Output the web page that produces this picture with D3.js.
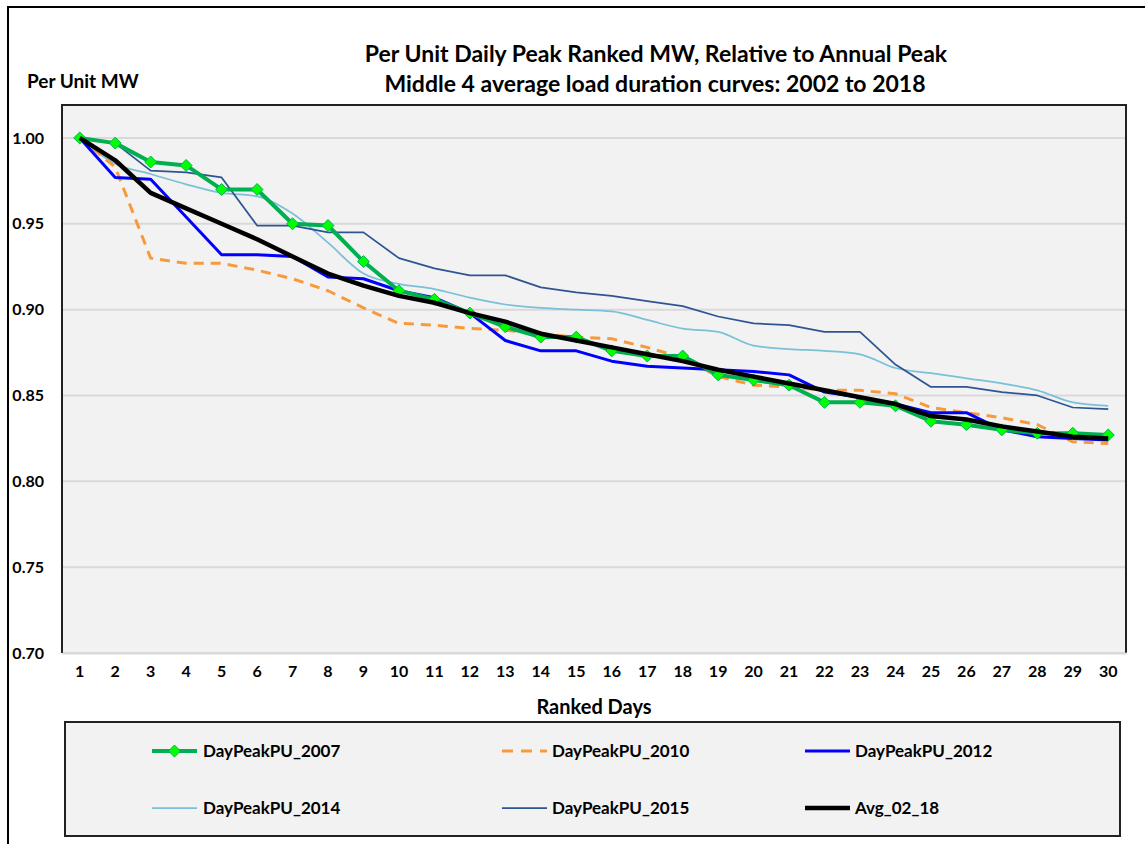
<!DOCTYPE html>
<html>
<head>
<meta charset="utf-8">
<script src="https://cdn.jsdelivr.net/npm/d3@7"></script>
<style>
  body { margin: 0; background: #fff; }
  text { font-family: Lato, "Open Sans", sans-serif; font-weight: bold; fill: #000; }
</style>
</head>
<body>
<div id="chart"></div>
<script>
// ranked days 1..30
let days = d3.range(1, 31);

let pu2007 = [1.000, 0.997, 0.986, 0.984, 0.970, 0.970, 0.950, 0.949, 0.928, 0.911,
              0.906, 0.898, 0.890, 0.884, 0.884, 0.876, 0.873, 0.873, 0.862, 0.859,
              0.856, 0.846, 0.846, 0.844, 0.835, 0.833, 0.830, 0.828, 0.828, 0.827];
let pu2010 = [1.000, 0.983, 0.930, 0.927, 0.927, 0.923, 0.918, 0.911, 0.901, 0.892,
              0.891, 0.889, 0.888, 0.886, 0.884, 0.883, 0.878, 0.872, 0.861, 0.856,
              0.855, 0.853, 0.853, 0.851, 0.843, 0.840, 0.837, 0.833, 0.823, 0.822];
let pu2012 = [1.000, 0.977, 0.976, 0.954, 0.932, 0.932, 0.931, 0.919, 0.918, 0.911,
              0.907, 0.898, 0.882, 0.876, 0.876, 0.870, 0.867, 0.866, 0.865, 0.864,
              0.862, 0.852, 0.849, 0.845, 0.840, 0.840, 0.830, 0.826, 0.825, 0.824];
let pu2014 = [1.000, 0.985, 0.979, 0.973, 0.968, 0.966, 0.956, 0.939, 0.921, 0.915,
              0.912, 0.907, 0.903, 0.901, 0.900, 0.899, 0.894, 0.889, 0.887, 0.879,
              0.877, 0.876, 0.874, 0.866, 0.863, 0.860, 0.857, 0.853, 0.846, 0.844];
let pu2015 = [1.000, 0.997, 0.981, 0.980, 0.977, 0.949, 0.949, 0.945, 0.945, 0.930,
              0.924, 0.920, 0.920, 0.913, 0.910, 0.908, 0.905, 0.902, 0.896, 0.892,
              0.891, 0.887, 0.887, 0.868, 0.855, 0.855, 0.852, 0.850, 0.843, 0.842];
let avg0218 = [1.000, 0.987, 0.968, 0.959, 0.950, 0.941, 0.931, 0.921, 0.914, 0.908,
               0.904, 0.898, 0.893, 0.886, 0.882, 0.878, 0.874, 0.870, 0.865, 0.861,
               0.857, 0.853, 0.849, 0.845, 0.838, 0.836, 0.832, 0.829, 0.826, 0.825];

let yTicks = [0.70, 0.75, 0.80, 0.85, 0.90, 0.95, 1.00];

let series = [
  {name: "DayPeakPU_2007", values: pu2007, color: "#00B050", width: 4, dash: null, marker: true},
  {name: "DayPeakPU_2010", values: pu2010, color: "#F79A3C", width: 3, dash: "10,7", marker: false},
  {name: "DayPeakPU_2012", values: pu2012, color: "#0000FF", width: 3, dash: null, marker: false},
  {name: "DayPeakPU_2014", values: pu2014, color: "#79C0D8", width: 1.75, dash: null, marker: false, smooth: true},
  {name: "DayPeakPU_2015", values: pu2015, color: "#2E5591", width: 1.75, dash: null, marker: false},
  {name: "Avg_02_18", values: avg0218, color: "#000000", width: 4.5, dash: null, marker: false}
];

let W = 1145, H = 844;
let plot = {left: 62, top: 105, right: 1126, bottom: 653};

let svg = d3.select("#chart").append("svg")
  .attr("width", W).attr("height", H);

// outer chart frame (runs off the right and bottom edges)
svg.append("rect")
  .attr("x", 8).attr("y", 7).attr("width", 1160).attr("height", 860)
  .attr("fill", "#fff").attr("stroke", "#000").attr("stroke-width", 2);

// titles
svg.append("text").attr("x", 656).attr("y", 62).attr("text-anchor", "middle")
  .style("font-size", "23px").text("Per Unit Daily Peak Ranked MW, Relative to Annual Peak");
svg.append("text").attr("x", 655).attr("y", 92).attr("text-anchor", "middle")
  .style("font-size", "23px").text("Middle 4 average load duration curves: 2002 to 2018");
svg.append("text").attr("x", 27).attr("y", 88)
  .style("font-size", "19px").text("Per Unit MW");

let x = d3.scaleBand().domain(days).range([plot.left, plot.right]);
let y = d3.scaleLinear().domain([0.70, 1.0192]).range([plot.bottom, plot.top]);
let cx = d => x(d) + x.bandwidth() / 2;

// plot area
svg.append("rect")
  .attr("x", plot.left).attr("y", plot.top)
  .attr("width", plot.right - plot.left).attr("height", plot.bottom - plot.top)
  .attr("fill", "#F2F2F2");

// gridlines
svg.append("g").selectAll("line").data(yTicks).enter().append("line")
  .attr("x1", plot.left).attr("x2", plot.right)
  .attr("y1", d => y(d)).attr("y2", d => y(d))
  .attr("stroke", "#D9D9D9").attr("stroke-width", 2);

// plot frame: dark left / top / right, grey bottom axis
svg.append("path")
  .attr("d", `M${plot.left},${plot.bottom}V${plot.top}H${plot.right}V${plot.bottom}`)
  .attr("fill", "none").attr("stroke", "#222").attr("stroke-width", 2);

// axes
let yAxis = svg.append("g")
  .attr("transform", "translate(" + plot.left + ",0)")
  .call(d3.axisLeft(y).tickValues(yTicks).tickFormat(d3.format(".2f")).tickSize(0).tickPadding(18));
yAxis.select(".domain").remove();
yAxis.selectAll("text").style("font-size", "16px").style("font-family", "Lato, sans-serif");

let xAxis = svg.append("g")
  .attr("transform", "translate(0," + plot.bottom + ")")
  .call(d3.axisBottom(x).tickSize(0).tickPadding(13));
xAxis.select(".domain").attr("stroke", "#D9D9D9").attr("stroke-width", 2);
xAxis.selectAll("text").style("font-size", "16px").style("font-family", "Lato, sans-serif");

svg.append("text").attr("x", 594).attr("y", 714).attr("text-anchor", "middle")
  .style("font-size", "20px").text("Ranked Days");

// lines
let lineGen = d3.line().x((d, i) => cx(days[i])).y(d => y(d));
let smoothGen = d3.line().x((d, i) => cx(days[i])).y(d => y(d)).curve(d3.curveMonotoneX);

let drawOrder = [3, 4, 1, 2, 0, 5];
drawOrder.forEach(function(k) {
  let s = series[k];
  svg.append("path")
    .datum(s.values)
    .attr("d", s.smooth ? smoothGen : lineGen)
    .attr("fill", "none")
    .attr("stroke", s.color)
    .attr("stroke-width", s.width)
    .attr("stroke-dasharray", s.dash)
    .attr("stroke-linejoin", "round");
  if (s.marker) {
    svg.append("g").selectAll("path").data(s.values).enter().append("path")
      .attr("d", d3.symbol().type(d3.symbolDiamond2).size(90))
      .attr("transform", (d, i) => "translate(" + cx(days[i]) + "," + y(d) + ")")
      .attr("fill", "#00FF00").attr("stroke", "#00B050").attr("stroke-width", 1);
  }
});

// legend
svg.append("rect")
  .attr("x", 65).attr("y", 722).attr("width", 1055).attr("height", 114)
  .attr("fill", "#F2F2F2").attr("stroke", "#222").attr("stroke-width", 2);

let legendPos = [
  {sx: 152, tx: 203, y: 751}, {sx: 502, tx: 552, y: 751}, {sx: 805, tx: 855, y: 751},
  {sx: 152, tx: 203, y: 808}, {sx: 502, tx: 552, y: 808}, {sx: 805, tx: 855, y: 808}
];
series.forEach(function(s, i) {
  let p = legendPos[i];
  let g = svg.append("g");
  g.append("line")
    .attr("x1", p.sx).attr("x2", p.sx + 45)
    .attr("y1", p.y).attr("y2", p.y)
    .attr("stroke", s.color).attr("stroke-width", s.width)
    .attr("stroke-dasharray", s.dash ? "11,8" : null);
  if (s.marker) {
    g.append("path")
      .attr("d", d3.symbol().type(d3.symbolDiamond2).size(90))
      .attr("transform", "translate(" + (p.sx + 22.5) + "," + p.y + ")")
      .attr("fill", "#00FF00").attr("stroke", "#00B050");
  }
  g.append("text").attr("x", p.tx).attr("y", p.y + 6)
    .style("font-size", "17px").text(s.name);
});
</script>
</body>
</html>
